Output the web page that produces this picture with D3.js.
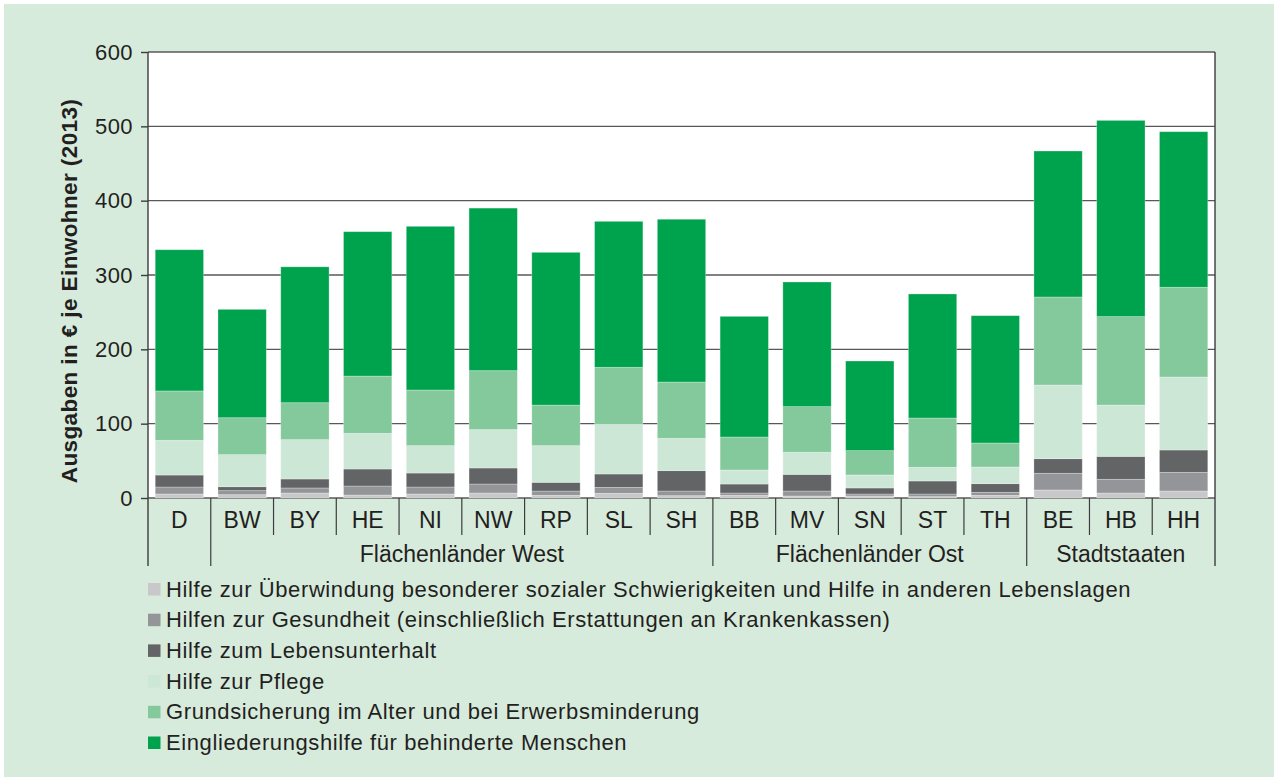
<!DOCTYPE html>
<html lang="de">
<head>
<meta charset="UTF-8">
<title>Sozialhilfeausgaben je Einwohner</title>
<script src="https://cdn.jsdelivr.net/npm/d3@7"></script>
<style>
  body { margin: 0; background: #fff; }
  svg text { font-family: "Liberation Sans", Arial, sans-serif; fill: #231f20; }
</style>
</head>
<body>
<script>
// categories (Länder) and their groups
const laender = ["D", "BW", "BY", "HE", "NI", "NW", "RP", "SL", "SH", "BB", "MV", "SN", "ST", "TH", "BE", "HB", "HH"];
const gruppen = [
  { name: "Flächenländer West", from: "BW", to: "SH" },
  { name: "Flächenländer Ost", from: "BB", to: "TH" },
  { name: "Stadtstaaten", from: "BE", to: "HH" }
];

// series, bottom to top (Euro je Einwohner 2013)
const ueberwindung   = [5.4, 4.5, 6.7, 4.0, 5.4, 6.7, 3.6, 6.3, 3.1, 3.6, 2.7, 2.7, 1.8, 3.6, 10.8, 6.7, 9.4];
const gesundheit     = [9.4, 5.4, 6.8, 12.1, 9.4, 12.1, 5.8, 8.0, 6.3, 3.1, 6.7, 2.7, 3.6, 4.0, 22.4, 18.4, 25.1];
const lebensunterhalt = [16.1, 5.3, 12.1, 22.9, 18.8, 21.6, 11.7, 18.0, 27.4, 12.1, 22.4, 8.1, 17.5, 11.7, 19.7, 30.9, 30.1];
const pflege         = [46.7, 43.1, 52.9, 48.0, 36.8, 51.6, 49.3, 66.7, 43.5, 18.9, 29.7, 17.5, 18.4, 22.4, 99.1, 69.0, 98.2];
const grundsicherung = [66.4, 49.7, 49.7, 77.0, 74.9, 79.3, 54.6, 76.8, 75.7, 44.3, 61.4, 32.7, 66.3, 32.3, 118.4, 119.0, 120.7];
const eingliederung  = [190.0, 145.8, 182.8, 194.3, 220.2, 218.7, 205.5, 196.4, 219.0, 162.4, 167.7, 120.6, 166.9, 171.3, 196.4, 264.0, 209.3];

const yTicks = [0, 100, 200, 300, 400, 500, 600];

const serien = [
  { key: "ueb", label: "Hilfe zur Überwindung besonderer sozialer Schwierigkeiten und Hilfe in anderen Lebenslagen", values: ueberwindung, color: "#c8c8ca" },
  { key: "ges", label: "Hilfen zur Gesundheit (einschließlich Erstattungen an Krankenkassen)", values: gesundheit, color: "#939598" },
  { key: "leb", label: "Hilfe zum Lebensunterhalt", values: lebensunterhalt, color: "#636466" },
  { key: "pfl", label: "Hilfe zur Pflege", values: pflege, color: "#cde7d6" },
  { key: "gru", label: "Grundsicherung im Alter und bei Erwerbsminderung", values: grundsicherung, color: "#83c99c" },
  { key: "ein", label: "Eingliederungshilfe für behinderte Menschen", values: eingliederung, color: "#00a34d" }
];

const table = laender.map((land, i) => {
  const row = { land: land };
  serien.forEach(s => { row[s.key] = s.values[i]; });
  return row;
});

const w = 1278, h = 781;
const pLeft = 148, pRight = 1215, pTop = 52, pBottom = 498;

const svg = d3.select("body").append("svg")
  .attr("width", w)
  .attr("height", h);

// light green panel
svg.append("rect")
  .attr("x", 4).attr("y", 4)
  .attr("width", w - 8).attr("height", h - 8)
  .attr("fill", "#d7ebdd");

const x = d3.scaleBand()
  .domain(laender)
  .range([pLeft, pRight])
  .paddingInner(0.23)
  .paddingOuter(0.115);

const y = d3.scaleLinear()
  .domain([0, 600])
  .range([pBottom, pTop]);

// white plot area
svg.append("rect")
  .attr("x", pLeft).attr("y", pTop)
  .attr("width", pRight - pLeft).attr("height", pBottom - pTop)
  .attr("fill", "#fff");

// gridlines
svg.append("g")
  .selectAll("line")
  .data(yTicks)
  .enter()
  .append("line")
  .attr("x1", pLeft).attr("x2", pRight)
  .attr("y1", d => y(d)).attr("y2", d => y(d))
  .attr("stroke", "#58585a")
  .attr("stroke-width", 1.4);

// stacked bars
const stack = d3.stack().keys(serien.map(s => s.key));
const layers = stack(table);

svg.append("g")
  .selectAll("g")
  .data(layers)
  .enter()
  .append("g")
  .attr("fill", (d, i) => serien[i].color)
  .selectAll("rect")
  .data(d => d)
  .enter()
  .append("rect")
  .attr("x", d => x(d.data.land))
  .attr("y", d => y(d[1]))
  .attr("width", x.bandwidth())
  .attr("height", d => y(d[0]) - y(d[1]))
  .attr("stroke", "rgba(255,255,255,0.35)")
  .attr("stroke-width", 0.8);

// y axis
const yAxis = d3.axisLeft(y).tickValues(yTicks).tickSize(7).tickPadding(8);
const ya = svg.append("g")
  .attr("transform", "translate(" + pLeft + ",0)")
  .call(yAxis);
ya.select(".domain").remove();
ya.selectAll("line").attr("stroke", "#3c3c3e").attr("stroke-width", 1.4);
ya.selectAll("text")
  .style("font-size", "22px")
  .style("letter-spacing", "0.4px")
  .style("font-family", "'Liberation Sans', Arial, sans-serif")
  .attr("fill", "#231f20");

svg.append("line")
  .attr("x1", pLeft).attr("x2", pLeft)
  .attr("y1", pTop).attr("y2", 566)
  .attr("stroke", "#3c3c3e").attr("stroke-width", 1.4);
svg.append("line")
  .attr("x1", pRight).attr("x2", pRight)
  .attr("y1", pTop).attr("y2", 566)
  .attr("stroke", "#3c3c3e").attr("stroke-width", 1.4);

// category separators
const step = x.step();
const groupEdges = ["BW", "BB", "BE"];
const cat = svg.append("g");
laender.slice(1).forEach(l => {
  const xx = x(l) - step * x.paddingInner() / 2;
  cat.append("line")
    .attr("x1", xx).attr("x2", xx)
    .attr("y1", pBottom).attr("y2", groupEdges.includes(l) ? 566 : 535)
    .attr("stroke", "#3c3c3e").attr("stroke-width", 1.2);
});

cat.selectAll("text.land")
  .data(laender)
  .enter()
  .append("text")
  .attr("class", "land")
  .attr("x", d => x(d) + x.bandwidth() / 2)
  .attr("y", 528)
  .attr("text-anchor", "middle")
  .style("font-size", "23px")
  .text(d => d);

cat.selectAll("text.gruppe")
  .data(gruppen)
  .enter()
  .append("text")
  .attr("class", "gruppe")
  .attr("x", d => (x(d.from) + x(d.to) + x.bandwidth()) / 2)
  .attr("y", 562)
  .attr("text-anchor", "middle")
  .style("font-size", "23px")
  .text(d => d.name);

// y axis title
svg.append("text")
  .attr("transform", "translate(77,291) rotate(-90)")
  .attr("text-anchor", "middle")
  .style("font-size", "22.5px")
  .style("letter-spacing", "0.4px")
  .style("font-weight", "bold")
  .text("Ausgaben in € je Einwohner (2013)");

// legend
const legend = svg.append("g")
  .selectAll("g")
  .data(serien)
  .enter()
  .append("g")
  .attr("transform", (d, i) => "translate(148," + (583 + i * 30.7) + ")");

legend.append("rect")
  .attr("width", 12.5).attr("height", 12.5)
  .attr("fill", d => d.color);

legend.append("text")
  .attr("x", 18)
  .attr("y", 13.5)
  .style("font-size", "22px")
  .style("letter-spacing", "0.6px")
  .text(d => d.label);
</script>
</body>
</html>
